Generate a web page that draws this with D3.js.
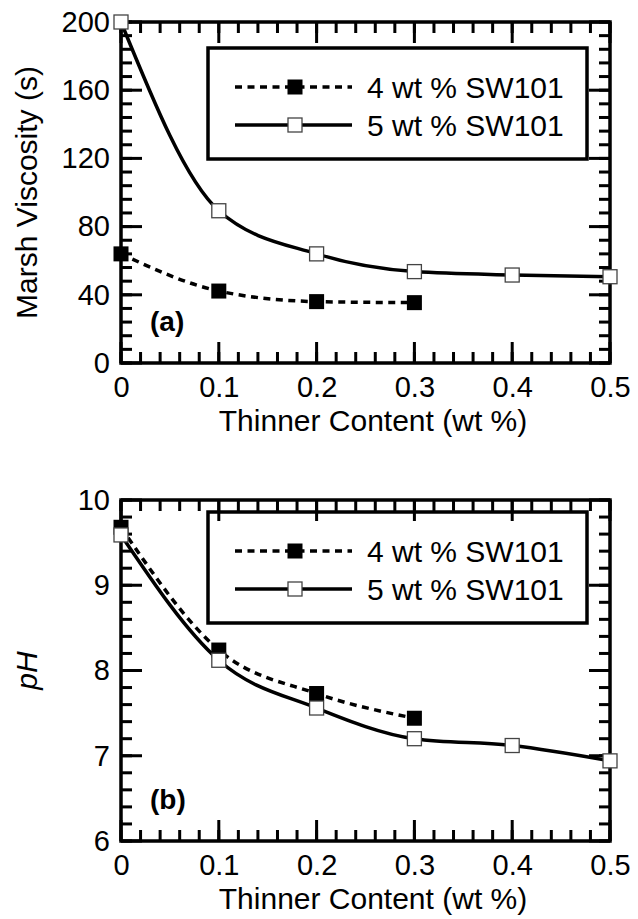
<!DOCTYPE html>
<html>
<head>
<meta charset="utf-8">
<script src="https://cdn.jsdelivr.net/npm/d3@7"></script>
<style>
  body { margin: 0; background: #fff; }
  svg { display: block; font-family: "Liberation Sans", Arial, sans-serif; }
  .tick text { font-size: 29px; fill: #000; }
</style>
</head>
<body>
<script>
// data
const thinner = [0, 0.1, 0.2, 0.3, 0.4, 0.5];
const marsh4 = [64, 42.2, 36, 35.4];
const marsh5 = [200, 89.3, 64, 53.6, 51.6, 50.6];
const ph4 = [9.68, 8.24, 7.73, 7.44];
const ph5 = [9.59, 8.12, 7.56, 7.2, 7.12, 6.94];

const xTicks = [0, 0.1, 0.2, 0.3, 0.4, 0.5];
const marshTicks = [0, 40, 80, 120, 160, 200];
const phTicks = [6, 7, 8, 9, 10];
const seriesNames = ["4 wt % SW101", "5 wt % SW101"];

const W = 638, H = 919;
let marginLeft = 121, plotRight = 610;

const svg = d3.select("body").append("svg")
  .attr("width", W)
  .attr("height", H);

const fmt = d3.format("");

// inward tick marks as thin filled bars, placed with the scales
function tickMarks(g, values, scale, horizontal, at, len) {
  const a = Math.min(at, at + len), l = Math.abs(len);
  g.append("g").selectAll("rect")
    .data(values)
    .join("rect")
    .attr("x", d => horizontal ? scale(d) - 1.5 : a)
    .attr("y", d => horizontal ? a : scale(d) - 1.5)
    .attr("width", horizontal ? 3 : l)
    .attr("height", horizontal ? l : 3)
    .attr("fill", "#000");
}

function panel(opts) {
  const x = d3.scaleLinear().domain([0, 0.5]).range([marginLeft, plotRight]);
  const y = d3.scaleLinear().domain(opts.yDomain).range([opts.bottom, opts.top]);
  const g = svg.append("g");

  const xMinor = d3.range(0, 0.5001, 0.02);
  const yMinor = d3.range(opts.yDomain[0], opts.yDomain[1] + 1e-6, opts.yMinorStep);

  // data lines
  const line = d3.line()
    .x((d, i) => x(thinner[i]))
    .y(d => y(d))
    .curve(d3.curveMonotoneX);

  g.append("path").datum(opts.s5)
    .attr("d", line)
    .attr("fill", "none").attr("stroke", "#000").attr("stroke-width", 3.5);
  g.append("path").datum(opts.s4)
    .attr("d", line)
    .attr("fill", "none").attr("stroke", "#000").attr("stroke-width", 3.5)
    .attr("stroke-dasharray", "7,5.5");

  // tick labels
  const xa = g.append("g").attr("transform", "translate(0," + opts.bottom + ")")
    .call(d3.axisBottom(x).tickValues(xTicks).tickSize(0).tickPadding(13).tickFormat(fmt));
  const ya = g.append("g").attr("transform", "translate(" + marginLeft + ",0)")
    .call(d3.axisLeft(y).tickValues(opts.yTicks).tickSize(0).tickPadding(11).tickFormat(fmt));
  [xa, ya].forEach(a => {
    a.select(".domain").remove();
    a.attr("font-family", null).attr("font-size", null);
  });

  // frame
  g.append("rect")
    .attr("x", marginLeft).attr("y", opts.top)
    .attr("width", plotRight - marginLeft).attr("height", opts.bottom - opts.top)
    .attr("fill", "none").attr("stroke", "#000").attr("stroke-width", 3.5);

  // axis titles
  g.append("text")
    .attr("x", 373).attr("y", opts.bottom + 68)
    .attr("text-anchor", "middle")
    .style("font-size", "30px")
    .text("Thinner Content (wt %)");
  g.append("text")
    .attr("transform", "translate(37," + ((opts.top + opts.bottom) / 2) + ") rotate(-90)")
    .attr("text-anchor", "middle")
    .style("font-size", "30px")
    .style("font-style", opts.yItalic ? "italic" : "normal")
    .text(opts.yLabel);

  // panel letter
  g.append("text")
    .attr("x", 150).attr("y", opts.bottom - 32)
    .style("font-size", "28px").style("font-weight", "bold")
    .text(opts.letter);

  // legend
  const lg = g.append("g").attr("transform", "translate(0," + opts.legendTop + ")");
  lg.append("rect")
    .attr("x", 208).attr("y", 0)
    .attr("width", 379).attr("height", 111)
    .attr("fill", "#fff").attr("stroke", "#000").attr("stroke-width", 3.5);
  seriesNames.forEach((name, i) => {
    const ry = 39 + i * 38;
    lg.append("line")
      .attr("x1", 235).attr("x2", 352).attr("y1", ry).attr("y2", ry)
      .attr("stroke", "#000").attr("stroke-width", 3.5)
      .attr("stroke-dasharray", i === 0 ? "7,5.5" : null);
    if (i === 0) {
      lg.append("rect").attr("x", 287.5).attr("y", ry - 7.5)
        .attr("width", 15).attr("height", 15).attr("fill", "#000");
    } else {
      lg.append("rect").attr("x", 288).attr("y", ry - 7)
        .attr("width", 14).attr("height", 14)
        .attr("fill", "#fff").attr("stroke", "#444").attr("stroke-width", 1.3);
    }
    lg.append("text")
      .attr("x", 367).attr("y", ry + 11)
      .style("font-size", "30px")
      .text(name);
  });

  // tick marks on all four sides, pointing in
  tickMarks(g, xMinor, x, true, opts.bottom, -11);
  tickMarks(g, xMinor, x, true, opts.top, 11);
  tickMarks(g, yMinor, y, false, marginLeft, 11);
  tickMarks(g, yMinor, y, false, plotRight, -11);
  tickMarks(g, xTicks, x, true, opts.bottom, -21);
  tickMarks(g, xTicks, x, true, opts.top, 21);
  tickMarks(g, opts.yTicks, y, false, marginLeft, 21);
  tickMarks(g, opts.yTicks, y, false, plotRight, -21);

  // markers
  g.append("g").selectAll("rect")
    .data(opts.s4).join("rect")
    .attr("x", (d, i) => x(thinner[i]) - 7.5)
    .attr("y", d => y(d) - 7.5)
    .attr("width", 15).attr("height", 15)
    .attr("fill", "#000");
  g.append("g").selectAll("rect")
    .data(opts.s5).join("rect")
    .attr("x", (d, i) => x(thinner[i]) - 7)
    .attr("y", d => y(d) - 7)
    .attr("width", 14).attr("height", 14)
    .attr("fill", "#fff").attr("stroke", "#444").attr("stroke-width", 1.3);
}

panel({
  top: 22, bottom: 363,
  yDomain: [0, 200], yTicks: marshTicks, yMinorStep: 8,
  yLabel: "Marsh Viscosity (s)", yItalic: false,
  letter: "(a)", s4: marsh4, s5: marsh5, legendTop: 48
});

panel({
  top: 500, bottom: 841,
  yDomain: [6, 10], yTicks: phTicks, yMinorStep: 0.2,
  yLabel: "pH", yItalic: true,
  letter: "(b)", s4: ph4, s5: ph5, legendTop: 512
});
</script>
</body>
</html>
